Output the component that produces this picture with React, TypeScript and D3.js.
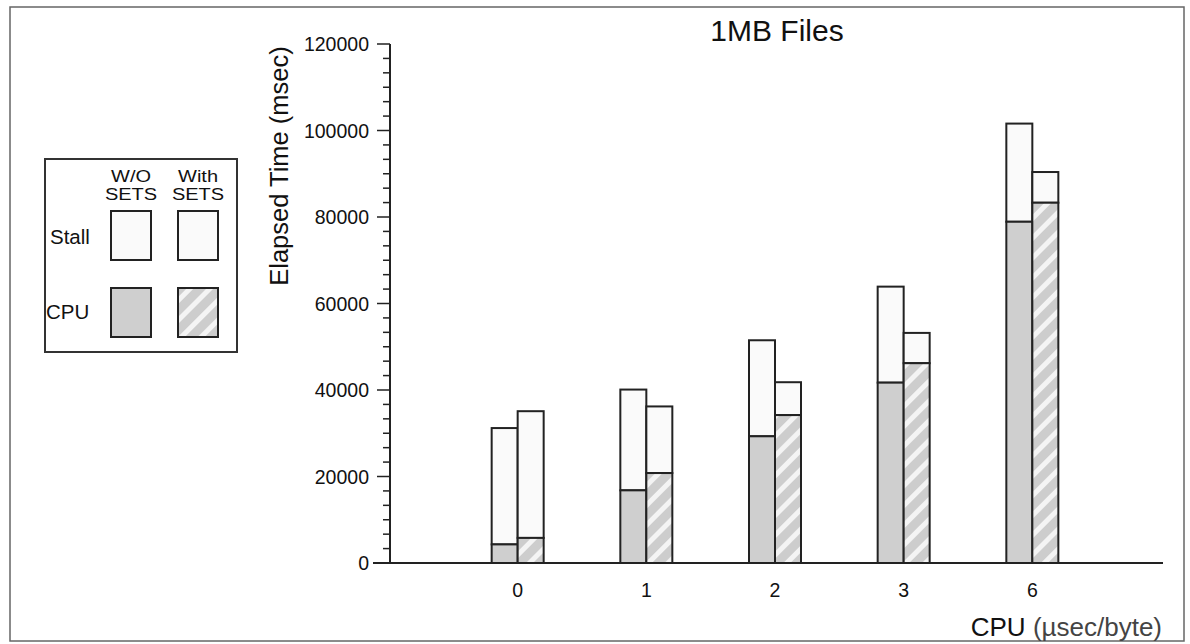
import React from 'react';
import * as d3 from 'd3';

// CPU cost per byte (categories on the x axis)
const cpuLabels = ['0', '1', '2', '3', '6'];
// elapsed time, msec: total (cpu + stall) and cpu part
const woTotal = [31200, 40100, 51500, 63900, 101600];
const woCpu = [4300, 16800, 29300, 41700, 78900];
const withTotal = [35100, 36200, 41800, 53200, 90400];
const withCpu = [5800, 20800, 34200, 46200, 83300];

const yMajor = [0, 20000, 40000, 60000, 80000, 100000, 120000];

const W = 1190;
const H = 644;
const FONT = '"Liberation Sans", Arial, Helvetica, sans-serif';
const STALL_FILL = '#fafafa';
const CPU_FILL = '#cfcfcf';
const EDGE = '#222';

// legend header word, stretched a bit wider like the original
const Head = ({ cx, cy, t }: { cx: number; cy: number; t: string }) => (
  <text transform={`translate(${cx},${cy}) scale(1.25,1)`} textAnchor="middle" fontSize={16} fill="#111">
    {t}
  </text>
);

const App = () => {
  const x = d3.scalePoint<string>().domain(cpuLabels).range([389, 1161]).padding(1);
  const y = d3.scaleLinear().domain([0, 120000]).range([563, 44]);
  const barW = 26;
  const axisX = 390;

  // minor ticks every 20000/6
  const minor = d3.range(0, 36).map((i) => (i * 20000) / 6).filter((v) => v % 20000 !== 0);

  const series = [
    { total: woTotal, cpu: woCpu, off: -barW, cpuFill: CPU_FILL },
    { total: withTotal, cpu: withCpu, off: 0, cpuFill: 'url(#hatch)' },
  ];

  return (
    <svg width={W} height={H} style={{ position: 'absolute', left: 0, top: 0 }} fontFamily={FONT}>
      <defs>
        <pattern id="hatch" width="14" height="14" patternUnits="userSpaceOnUse" patternTransform="rotate(45)">
          <rect width="14" height="14" fill="#cdcdcd" />
          <rect x="0" width="5" height="14" fill="#f4f4f4" />
        </pattern>
      </defs>
      <rect x={0} y={0} width={W} height={H} fill="#fff" />
      {/* outer frame */}
      <rect x={10} y={7} width={1174} height={634} fill="none" stroke="#666" strokeWidth={1.5} />

      {/* title */}
      <text x={777} y={41} textAnchor="middle" fontSize={30} fill="#111">1MB Files</text>

      {/* y axis */}
      <line x1={axisX} x2={axisX} y1={y(120000)} y2={y(0)} stroke={EDGE} strokeWidth={2} />
      {minor.map((v) => (
        <line key={'m' + v} x1={axisX - 7} x2={axisX} y1={y(v)} y2={y(v)} stroke={EDGE} strokeWidth={1.5} />
      ))}
      {yMajor.map((v) => (
        <g key={v}>
          <line x1={axisX - 13} x2={axisX} y1={y(v)} y2={y(v)} stroke={EDGE} strokeWidth={1.5} />
          <text x={369} y={y(v)} dy="0.36em" textAnchor="end" fontSize={19.5} fill="#111">{v}</text>
        </g>
      ))}
      <text transform={`translate(288,166) rotate(-90)`} textAnchor="middle" fontSize={25.5} fill="#111">
        Elapsed Time (msec)
      </text>

      {/* bars */}
      {cpuLabels.map((c, i) => (
        <g key={c}>
          {series.map((s, j) => {
            const bx = (x(c) as number) + s.off;
            return (
              <g key={j}>
                <rect x={bx} y={y(s.total[i])} width={barW} height={y(s.cpu[i]) - y(s.total[i])}
                  fill={STALL_FILL} stroke={EDGE} strokeWidth={2} />
                <rect x={bx} y={y(s.cpu[i])} width={barW} height={y(0) - y(s.cpu[i])}
                  fill={s.cpuFill} stroke={EDGE} strokeWidth={2} />
              </g>
            );
          })}
          <text x={x(c)} y={597} textAnchor="middle" fontSize={19.5} fill="#111">{c}</text>
        </g>
      ))}

      {/* x axis */}
      <line x1={373} x2={1163} y1={y(0)} y2={y(0)} stroke={EDGE} strokeWidth={2} />
      <text x={1162} y={636} textAnchor="end" fontSize={26} fill="#111">
        CPU <tspan fill="#444">(µsec/byte)</tspan>
      </text>

      {/* legend */}
      <g>
        <rect x={45} y={159} width={192} height={193} fill="#fff" stroke="#333" strokeWidth={2} />
        <Head cx={131} cy={182} t="W/O" />
        <Head cx={131} cy={200} t="SETS" />
        <Head cx={198} cy={182} t="With" />
        <Head cx={198} cy={200} t="SETS" />
        <text x={50} y={244} fontSize={20.5} fill="#111">Stall</text>
        <text x={46} y={319} fontSize={20.5} fill="#111">CPU</text>
        <rect x={111} y={211} width={40} height={49} fill={STALL_FILL} stroke={EDGE} strokeWidth={2} />
        <rect x={178} y={211} width={40} height={49} fill={STALL_FILL} stroke={EDGE} strokeWidth={2} />
        <rect x={111} y={288} width={40} height={49} fill={CPU_FILL} stroke={EDGE} strokeWidth={2} />
        <rect x={178} y={288} width={40} height={49} fill="url(#hatch)" stroke={EDGE} strokeWidth={2} />
      </g>
    </svg>
  );
};

export default App;
